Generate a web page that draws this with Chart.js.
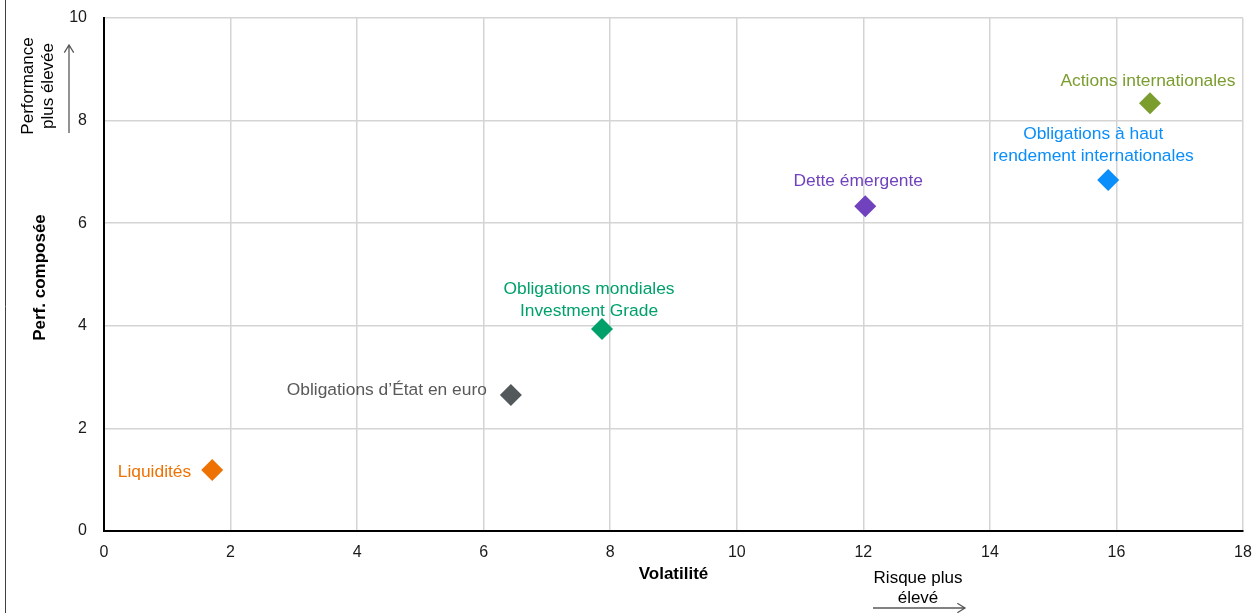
<!DOCTYPE html>
<html lang="fr">
<head>
<meta charset="utf-8">
<title>Performance composée et volatilité</title>
<script src="https://cdn.jsdelivr.net/npm/chart.js@4/dist/chart.umd.min.js"></script>
<style>
  html, body { margin: 0; padding: 0; background: #ffffff; }
  #wrap { position: relative; width: 1255px; height: 613px; }
</style>
</head>
<body>
<div id="wrap"><canvas id="chart" width="1255" height="613"></canvas></div>
<script>
// Asset classes, their volatility (x) and composed performance (y)
const categories = [
  'Liquidités',
  'Obligations d’État en euro',
  'Obligations mondiales\nInvestment Grade',
  'Dette émergente',
  'Obligations à haut\nrendement internationales',
  'Actions internationales'
];
const volatility  = [1.71, 6.43, 7.87, 12.03, 15.87, 16.53];
const performance = [1.19, 2.65, 3.94, 6.33, 6.84, 8.34];
const xTicks = [0, 2, 4, 6, 8, 10, 12, 14, 16, 18];
const yTicks = [0, 2, 4, 6, 8, 10];

// Styling per asset class
const colors = ['#EE7203', '#53585B', '#00A06B', '#7042BE', '#0A8EF9', '#7A9D2E'];
const labelColors = ['#EE7203', '#595959', '#00A06B', '#7042BE', '#0A8EF9', '#7A9D2E'];
// Label anchor relative to its marker: [dx, dy of first line, alignment]
const labelPlacement = [
  [-21, 2, 'right'],
  [-24, -5, 'right'],
  [-13, -40, 'center'],
  [-7, -25, 'center'],
  [-15, -46, 'center'],
  [-2, -22, 'center']
];

const FONT = '"Liberation Sans", Arial, sans-serif';

const labelsPlugin = {
  id: 'pointLabels',
  afterDatasetsDraw(chart) {
    const ctx = chart.ctx;
    const xs = chart.scales.x, ys = chart.scales.y;
    ctx.save();
    ctx.font = '17.4px ' + FONT;
    ctx.textBaseline = 'middle';
    categories.forEach((name, i) => {
      const px = xs.getPixelForValue(volatility[i]);
      const py = ys.getPixelForValue(performance[i]);
      const [dx, dy, align] = labelPlacement[i];
      ctx.fillStyle = labelColors[i];
      ctx.textAlign = align;
      name.split('\n').forEach((line, k) => {
        ctx.fillText(line, px + dx, py + dy + k * 22);
      });
    });
    ctx.restore();
  }
};

function arrow(ctx, x1, y1, x2, y2) {
  const a = Math.atan2(y2 - y1, x2 - x1);
  const h = 9;
  ctx.beginPath();
  ctx.moveTo(x1, y1);
  ctx.lineTo(x2, y2);
  ctx.moveTo(x2 - h * Math.cos(a - 0.55), y2 - h * Math.sin(a - 0.55));
  ctx.lineTo(x2, y2);
  ctx.lineTo(x2 - h * Math.cos(a + 0.55), y2 - h * Math.sin(a + 0.55));
  ctx.stroke();
}

const annotationsPlugin = {
  id: 'axisAnnotations',
  afterDraw(chart) {
    const ctx = chart.ctx;
    const area = chart.chartArea;
    ctx.save();
    // frame line along the left edge
    ctx.strokeStyle = '#404040';
    ctx.lineWidth = 1;
    ctx.beginPath();
    ctx.moveTo(5.5, 0);
    ctx.lineTo(5.5, 613);
    ctx.stroke();

    ctx.fillStyle = '#000';
    ctx.textAlign = 'center';
    ctx.textBaseline = 'middle';

    // x axis title
    ctx.font = 'bold 17px ' + FONT;
    ctx.fillText('Volatilité', (area.left + area.right) / 2, 574);

    // y axis title
    ctx.save();
    ctx.translate(40, (area.top + area.bottom) / 2 + 3);
    ctx.rotate(-Math.PI / 2);
    ctx.fillText('Perf. composée', 0, 0);
    ctx.restore();

    // higher performance note
    ctx.font = '17px ' + FONT;
    ctx.save();
    ctx.translate(38, 86);
    ctx.rotate(-Math.PI / 2);
    ctx.fillText('Performance', 0, -10);
    ctx.fillText('plus élevée', 0, 10);
    ctx.restore();

    // higher risk note
    ctx.fillText('Risque plus', 918, 578);
    ctx.fillText('élevé', 918, 598);

    ctx.strokeStyle = '#595959';
    ctx.lineWidth = 1.3;
    arrow(ctx, 69, 133, 69, 45);
    arrow(ctx, 873, 608, 965, 608);
    ctx.restore();
  }
};

const chart = new Chart(document.getElementById('chart'), {
  type: 'scatter',
  data: {
    datasets: [{
      data: volatility.map((v, i) => ({ x: v, y: performance[i] })),
      pointStyle: 'rectRot',
      pointRadius: 11,
      pointHoverRadius: 11,
      pointBorderWidth: 0,
      pointBackgroundColor: colors,
      pointBorderColor: colors
    }]
  },
  options: {
    responsive: false,
    animation: false,
    events: [],
    layout: { padding: { left: 0, right: 12, top: 18, bottom: 0 } },
    plugins: {
      legend: { display: false },
      tooltip: { enabled: false }
    },
    scales: {
      x: {
        type: 'linear',
        min: 0,
        max: 18,
        afterBuildTicks(scale) { scale.ticks = xTicks.map(v => ({ value: v })); },
        afterFit(scale) {
          scale.height = 82;
          scale.paddingLeft = 0;
          scale.paddingRight = 0;
        },
        grid: { color: '#d4d4d4', lineWidth: 1.5, drawTicks: false },
        border: { color: '#000', width: 2 },
        ticks: { color: '#1a1a1a', font: { family: FONT, size: 16 }, padding: 12 }
      },
      y: {
        type: 'linear',
        min: 0,
        max: 10,
        afterBuildTicks(scale) { scale.ticks = yTicks.map(v => ({ value: v })); },
        afterFit(scale) {
          scale.width = 104;
          scale.paddingTop = 0;
          scale.paddingBottom = 0;
        },
        grid: { color: '#d4d4d4', lineWidth: 1.5, drawTicks: false },
        border: { color: '#000', width: 2 },
        ticks: { color: '#1a1a1a', font: { family: FONT, size: 16 }, padding: 17 }
      }
    }
  },
  plugins: [labelsPlugin, annotationsPlugin]
});
</script>
</body>
</html>
